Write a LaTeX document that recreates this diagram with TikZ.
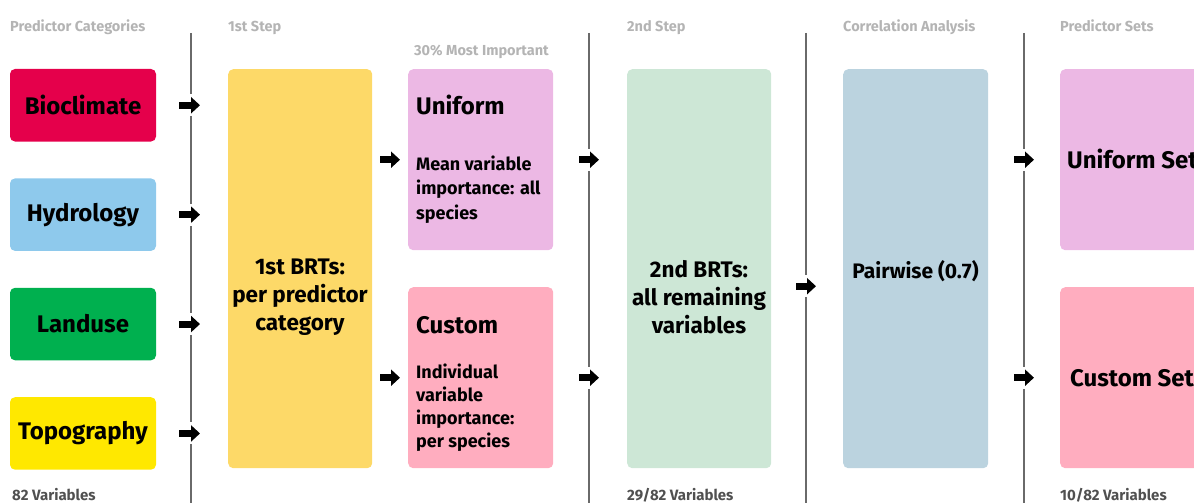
\documentclass[tikz,border=0pt]{standalone}
\usepackage{fontspec}
\setmainfont{Fira Sans}
\usepackage{xcolor}
\usetikzlibrary{positioning, arrows.meta, calc}

\definecolor{bioclim}{HTML}{E5004B}
\definecolor{hydro}{HTML}{8EC9EC}
\definecolor{landuse}{HTML}{00B04F}
\definecolor{topo}{HTML}{FFE800}
\definecolor{brtone}{HTML}{FDD968}
\definecolor{unif}{HTML}{ECB8E4}
\definecolor{cust}{HTML}{FFADBF}
\definecolor{brttwo}{HTML}{CDE7D6}
\definecolor{corr}{HTML}{BBD3DF}
\definecolor{headgray}{HTML}{B4B4B4}
\definecolor{countgray}{HTML}{505050}
\definecolor{linegray}{HTML}{6A6A6A}

\tikzset{
  catbox/.style={rounded corners=5pt, minimum width=146pt, minimum height=72.5pt,
    inner sep=0pt, font=\bfseries\fontsize{24}{28}\selectfont},
  stepbox/.style={rounded corners=5pt, anchor=north west, inner sep=0pt, minimum width=145pt},
  boxtitle/.style={anchor=base west, inner sep=0pt, font=\bfseries\fontsize{24}{28}\selectfont},
  boxnote/.style={anchor=base west, inner sep=0pt, align=left, font=\bfseries\fontsize{18}{24.5}\selectfont},
  bigtext/.style={align=center, inner sep=0pt, font=\bfseries\fontsize{22.5}{28}\selectfont},
  headlabel/.style={anchor=base west, inner sep=0pt, text=headgray, font=\bfseries\fontsize{14.5}{16}\selectfont},
  countlabel/.style={anchor=base west, inner sep=0pt, text=countgray, font=\bfseries\fontsize{15}{17}\selectfont},
  divider/.style={draw=linegray, line width=1.1pt},
  blockarrow/.style={line width=7pt, -{Triangle[length=9pt, width=16pt]},
    shorten <=24pt, shorten >=27pt, preaction={draw=white, line width=22pt, -}},
}

\begin{document}
\begin{tikzpicture}[x=1pt, y=-1pt]
    \useasboundingbox (0,0) rectangle (1194,503);
    \clip (0,0) rectangle (1194,503);

    % --- COLUMN HEADINGS ---
    \node[headlabel] (hcat) at (10,32) {Predictor Categories};
    \node[headlabel] (hstep1) at (228,32) {1st Step};
    \node[headlabel] (htop) at (414,56) {30\% Most Important};
    \node[headlabel] (hstep2) at (627,32) {2nd Step};
    \node[headlabel] (hcorr) at (843,32) {Correlation Analysis};
    \node[headlabel] (hsets) at (1060,32) {Predictor Sets};

    % Dividers between the stages
    \draw[divider] (191,33) -- (191,503);
    \draw[divider] (589,33) -- (589,503);
    \draw[divider] (806,33) -- (806,503);
    \draw[divider] (1024,33) -- (1024,503);

    % --- PREDICTOR CATEGORIES ---
    \node[catbox, fill=bioclim] (bio) at (83,105.25) {Bioclimate};
    \node[catbox, fill=hydro, below=36.5pt of bio] (hyd) {Hydrology};
    \node[catbox, fill=landuse, below=36.5pt of hyd] (land) {Landuse};
    \node[catbox, fill=topo, below=36.5pt of land] (topo) {Topography};

    % --- 1ST STEP ---
    \node[stepbox, fill=brtone, minimum width=144pt, minimum height=399pt] (brt1) at (228,69) {};
    \node[bigtext] (brt1txt) at (300,297) {1st BRTs:\\per predictor\\category};

    % Uniform / custom selection (base anchor = last line)
    \node[stepbox, fill=unif, minimum height=181pt] (uni) at (408,69) {};
    \node[boxtitle] (unititle) at (416,114) {Uniform};
    \node[boxnote] (uninote) at (416,219) {Mean variable\\importance: all\\species};

    \node[stepbox, fill=cust, minimum height=181pt] (cus) at (408,287) {};
    \node[boxtitle] (custitle) at (416,333) {Custom};
    \node[boxnote, font=\bfseries\fontsize{18}{23}\selectfont] (cusnote) at (416,447)
        {Individual\\variable\\importance:\\per species};

    % --- 2ND STEP ---
    \node[stepbox, fill=brttwo, minimum width=144pt, minimum height=399pt] (brt2) at (627,69) {};
    \node[bigtext] (brt2txt) at (699,297) {2nd BRTs:\\all remaining\\variables};

    % --- CORRELATION ANALYSIS ---
    \node[stepbox, fill=corr, minimum height=399pt] (pair) at (843,69) {};
    \node[bigtext, font=\bfseries\fontsize{21}{24}\selectfont] (pairtxt) at (915.5,271) {Pairwise (0.7)};

    % --- PREDICTOR SETS ---
    \node[stepbox, fill=unif, minimum width=160pt, minimum height=181pt] (uset) at (1060,69) {};
    \node[boxtitle] (usettxt) at (1067,168) {Uniform Set};
    \node[stepbox, fill=cust, minimum width=160pt, minimum height=181pt] (cset) at (1060,287) {};
    \node[boxtitle] (csettxt) at (1070,386) {Custom Set};

    % Variable counts
    \node[countlabel] (n1) at (12,500) {82 Variables};
    \node[countlabel] (n2) at (627,500) {29/82 Variables};
    \node[countlabel] (n3) at (1060,500) {10/82 Variables};

    % --- ARROWS ---
    \foreach \src in {bio, hyd, land, topo}
        \draw[blockarrow, shorten <=23pt, shorten >=28pt] (\src.east) -- (brt1.west |- \src.east);
    \draw[blockarrow, shorten <=8pt, shorten >=8pt] (brt1.east |- uni.west) -- (uni.west);
    \draw[blockarrow, shorten <=8pt, shorten >=8pt] (brt1.east |- cus.west) -- (cus.west);
    \draw[blockarrow, shorten <=26pt, shorten >=28pt] (uni.east) -- (brt2.west |- uni.east);
    \draw[blockarrow, shorten <=26pt, shorten >=28pt] (cus.east) -- (brt2.west |- cus.east);
    \draw[blockarrow, shorten <=25pt, shorten >=27pt] ($(brt2.east)+(0,17.5)$) -- ($(pair.west)+(0,17.5)$);
    \draw[blockarrow, shorten <=26pt, shorten >=26pt] (pair.east |- uset.west) -- (uset.west);
    \draw[blockarrow, shorten <=26pt, shorten >=26pt] (pair.east |- cset.west) -- (cset.west);
\end{tikzpicture}
\end{document}
